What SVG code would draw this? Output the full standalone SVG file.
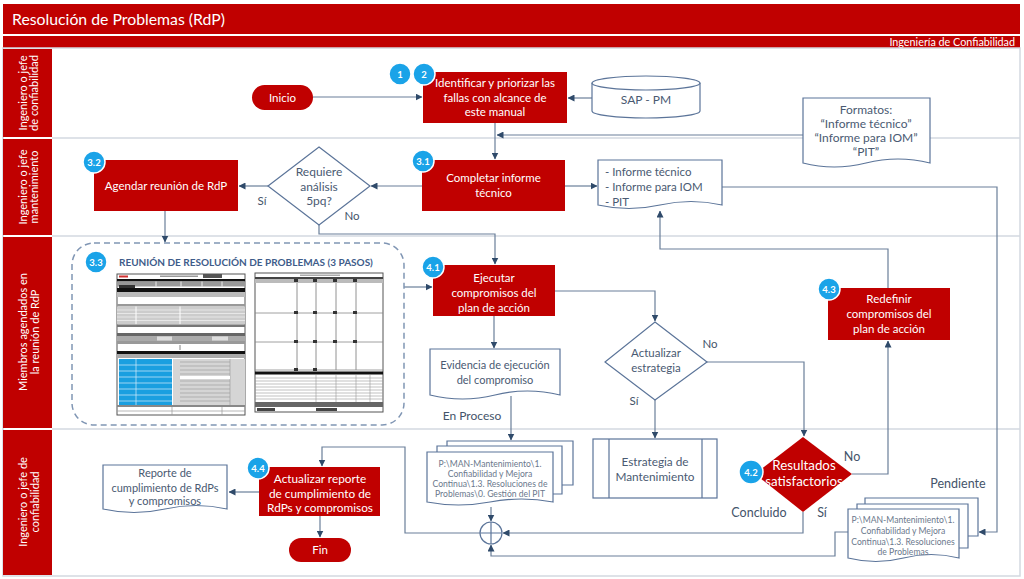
<svg xmlns="http://www.w3.org/2000/svg" width="1024" height="579" viewBox="0 0 1024 579">
<defs>
<marker id="ah" markerWidth="7" markerHeight="7" refX="6.5" refY="3.5" orient="auto" markerUnits="userSpaceOnUse">
<path d="M0,0 L7,3.5 L0,7 Z" fill="#2f4a6a"/>
</marker>
<style>
.ff{font-family:Lato,"Noto Sans",sans-serif}
.hdr{fill:#C00000}
.lanebg{fill:#C00000}
.lt{font-family:Lato,"Noto Sans",sans-serif;fill:#fff;font-size:11px;text-anchor:middle}
.sep{stroke:#d3d9e0;stroke-width:1.5;fill:none}
.box{fill:#C00000}
.nt{font-family:Lato,"Noto Sans",sans-serif;fill:#fff;font-size:11.5px;text-anchor:middle}
.doc{fill:#fff;stroke:#5b7499;stroke-width:1.2}
.dt{font-family:Lato,"Noto Sans",sans-serif;fill:#4a5a72;font-size:11px;text-anchor:middle}
.dl{font-family:Lato,"Noto Sans",sans-serif;fill:#4a5a72;font-size:11.5px;text-anchor:start}
.st{font-family:Lato,"Noto Sans",sans-serif;fill:#6a788c;font-size:8.6px;text-anchor:middle}
.lbl{font-family:Lato,"Noto Sans",sans-serif;fill:#44546A;font-size:11.5px;text-anchor:middle}
.big{font-size:12.5px}
.conn{fill:none;stroke:#6a7f99;stroke-width:1.2}
.arr{marker-end:url(#ah)}
.bc{fill:#1AA3E8;stroke:#fff;stroke-width:1.5}
.bt{font-family:Lato,"Noto Sans",sans-serif;fill:#fff;font-size:9.5px;font-weight:bold;text-anchor:middle}
.fo{fill:#fff;stroke:#555;stroke-width:1}
</style>
</defs>
<rect width="1024" height="579" fill="#fff"/>
<g id="header">
<rect class="hdr" x="3" y="4" width="1017" height="30"/>
<rect class="hdr" x="3" y="36" width="1017" height="12"/>
<text class="ff" x="12" y="25" fill="#fff" font-size="15.8">Resolución de Problemas (RdP)</text>
<text class="ff" x="1015" y="46" fill="#fff" font-size="10.8" text-anchor="end">Ingeniería de Confiabilidad</text>
</g>
<g id="lanes">
<rect x="3" y="48" width="1017" height="528" fill="none" stroke="#d3d9e0" stroke-width="1.5"/>
<line class="sep" x1="52" y1="138" x2="1020" y2="138"/>
<line class="sep" x1="52" y1="236" x2="1020" y2="236"/>
<line class="sep" x1="52" y1="429" x2="1020" y2="429"/>
<rect class="lanebg" x="3" y="49" width="49" height="88"/>
<rect class="lanebg" x="3" y="139" width="49" height="96"/>
<rect class="lanebg" x="3" y="237" width="49" height="191"/>
<rect class="lanebg" x="3" y="430" width="49" height="145"/>
<text class="lt" transform="translate(26.5,93) rotate(-90)">Ingeniero o jefe</text>
<text class="lt" transform="translate(38,93) rotate(-90)">de confiabilidad</text>
<text class="lt" transform="translate(26.5,187) rotate(-90)">Ingeniero o jefe</text>
<text class="lt" transform="translate(38,187) rotate(-90)">mantenimiento</text>
<text class="lt" transform="translate(26.5,332) rotate(-90)">Miembros agendados en</text>
<text class="lt" transform="translate(38.5,332) rotate(-90)">la reunión de RdP</text>
<text class="lt" transform="translate(26.5,502) rotate(-90)">Ingeniero o jefe de</text>
<text class="lt" transform="translate(38.5,502) rotate(-90)">confiabilidad</text>
</g>
<g id="connectors">
<path class="conn arr" d="M313,97 H422"/>
<path class="conn arr" d="M592,98 H568"/>
<path class="conn arr" d="M495,123 V159"/>
<path class="conn arr" d="M803,135 H497"/>
<path class="conn arr" d="M565,186 H597"/>
<path class="conn arr" d="M422,186 H371"/>
<path class="conn arr" d="M268,186 H239"/>
<path class="conn arr" d="M165,211 V242"/>
<path class="conn arr" d="M319,225 V234 H495 V264"/>
<path class="conn arr" d="M404,287 H432"/>
<path class="conn arr" d="M494,316 V348"/>
<path class="conn arr" d="M555,291 H655 V321"/>
<path class="conn arr" d="M655,400 V438"/>
<path class="conn arr" d="M707,362 H804 V436"/>
<path class="conn arr" d="M511,396 V440"/>
<path class="conn arr" d="M722,187 H997 V532 H979"/>
<path class="conn arr" d="M888,288 V249 H660 V211"/>
<path class="conn arr" d="M852,474 H888 V341"/>
<path class="conn arr" d="M491,507 V521"/>
<path class="conn arr" d="M803,512 V533 H503"/>
<path class="conn arr" d="M848,532 H835 V556 H491 V545"/>
<path class="conn arr" d="M480,533 H405 V447 H322 V466"/>
<path class="conn arr" d="M259,492 H229"/>
<path class="conn arr" d="M320,516 V537"/>
</g>
<g id="inicio">
<rect class="box" x="252" y="85" width="61" height="25" rx="12.5"/>
<text class="nt" x="282.5" y="101.5">Inicio</text>
</g>
<g id="identificar">
<rect class="box" x="423" y="72" width="144" height="51"/>
<text class="nt" x="495" y="87">Identificar y priorizar las</text>
<text class="nt" x="495" y="101.5">fallas con alcance de</text>
<text class="nt" x="495" y="116">este manual</text>
<circle class="bc" cx="400" cy="74" r="11"/>
<text class="bt" x="400" y="77.5">1</text>
<circle class="bc" cx="424" cy="74" r="11"/>
<text class="bt" x="424" y="77.5">2</text>
</g>
<g id="sap">
<path d="M592,83 A54,7 0 0,1 700,83 V111 A54,7 0 0,1 592,111 Z" class="doc"/>
<path d="M592,83 A54,7 0 0,0 700,83" class="doc" fill="none"/>
<text class="dt" x="646" y="104" style="font-size:12px">SAP - PM</text>
</g>
<g id="formatos">
<path class="doc" d="M803,98 H930 V163 Q898,155 866,163 T803,163 Z"/>
<text class="dt" x="866" y="114" style="font-size:12px">Formatos:</text>
<text class="dt" x="866" y="128" style="font-size:12px">“Informe técnico”</text>
<text class="dt" x="866" y="142" style="font-size:12px">“Informe para IOM”</text>
<text class="dt" x="866" y="156" style="font-size:12px">“PIT”</text>
</g>
<g id="completar">
<rect class="box" x="422" y="160" width="143" height="51"/>
<text class="nt" x="493.5" y="182">Completar informe</text>
<text class="nt" x="493.5" y="197">técnico</text>
<circle class="bc" cx="423" cy="161" r="11"/>
<text class="bt" x="423" y="164.5">3.1</text>
</g>
<g id="informe">
<path class="doc" d="M598,160 H722 V205 Q691,198 660,205 T598,205 Z"/>
<text class="dl" x="605" y="176">- Informe técnico</text>
<text class="dl" x="605" y="191">- Informe para IOM</text>
<text class="dl" x="605" y="206">- PIT</text>
</g>
<g id="requiere">
<path class="doc" d="M319,147 L370,186 L319,225 L268,186 Z"/>
<text class="dt" x="319" y="176" style="font-size:12px">Requiere</text>
<text class="dt" x="319" y="190.5" style="font-size:12px">análisis</text>
<text class="dt" x="319" y="205" style="font-size:12px">5pq?</text>
<text class="lbl" x="262" y="205">Sí</text>
<text class="lbl" x="352" y="220">No</text>
</g>
<g id="agendar">
<rect class="box" x="94" y="160" width="144" height="51"/>
<text class="nt" x="166" y="190">Agendar reunión de RdP</text>
<circle class="bc" cx="94" cy="162" r="11"/>
<text class="bt" x="94" y="165.5">3.2</text>
</g>
<g id="reunion">
<rect x="72" y="243" width="332" height="182" rx="22" fill="none" stroke="#8096b4" stroke-width="1.5" stroke-dasharray="6,4"/>
<circle class="bc" cx="96" cy="262" r="11"/>
<text class="bt" x="96" y="265.5">3.3</text>
<text class="ff" x="119" y="266" font-size="10" font-weight="bold" fill="#3e5c8a">REUNIÓN DE RESOLUCIÓN DE PROBLEMAS (3 PASOS)</text>
<g id="form1">
<rect class="fo" x="117" y="274" width="128" height="141"/>
<rect x="119" y="275.5" width="9" height="2" fill="#d03030"/>
<rect x="160" y="275.5" width="38" height="1.5" fill="#999"/>
<rect x="203" y="274" width="19" height="4" fill="#555"/>
<rect x="117" y="279" width="128" height="2.5" fill="#111"/>
<rect x="117" y="281.5" width="128" height="5" fill="#999"/>
<path d="M156,281.5 V286.5 M181,281.5 V286.5 M202,281.5 V286.5 M222,281.5 V286.5" stroke="#fff" stroke-width="0.8"/>
<rect x="119" y="285" width="16" height="3" fill="#333"/>
<rect x="117" y="288" width="128" height="4" fill="#111"/>
<rect x="117" y="292" width="128" height="5" fill="#bbb"/>
<rect x="117" y="304" width="128" height="2.5" fill="#999"/>
<rect x="117" y="306.5" width="128" height="18" fill="#ccc"/>
<path d="M117,310 H245 M117,313.5 H245 M117,317 H245 M117,320.5 H245" stroke="#eee" stroke-width="0.8"/>
<path d="M136,306.5 V324.5 M180,306.5 V324.5" stroke="#fff" stroke-width="1"/>
<rect x="117" y="324.5" width="128" height="2.5" fill="#777"/>
<rect x="117" y="333" width="128" height="3" fill="#666"/>
<rect x="117" y="336" width="128" height="5" fill="#aaa"/>
<rect x="157" y="336.5" width="15" height="4" fill="#ddd"/>
<rect x="212" y="336.5" width="16" height="4" fill="#ddd"/>
<rect x="117" y="341" width="128" height="3" fill="#999"/>
<path d="M180,345 V350" stroke="#666" stroke-width="0.8"/>
<rect x="117" y="351" width="128" height="3" fill="#111"/>
<rect x="117" y="354" width="128" height="4" fill="#aaa"/>
<rect x="119" y="359" width="53" height="46" fill="#1A9FE0"/>
<path d="M119,365 H172 M119,371 H172 M119,377 H172 M119,383 H172 M119,389 H172 M119,395 H172 M119,401 H172 M136,359 V405" stroke="#d8eefa" stroke-width="0.7"/>
<rect x="173" y="359" width="72" height="46" fill="#d5d5d5"/>
<path d="M180,362 H230 M180,366 H230 M180,370 H230 M180,374 H230 M180,381 H230 M180,385 H230 M180,389 H230 M180,393 H230 M180,397 H230 M180,401 H230 M230,359 V405" stroke="#999" stroke-width="0.6"/>
<rect x="180" y="376" width="50" height="3" fill="#fff"/>
<rect x="117" y="405" width="128" height="2" fill="#888"/>
<path d="M172,407 V415 M222,407 V415 M117,411 H245" stroke="#999" stroke-width="0.7"/>
</g>
<g id="form2">
<rect class="fo" x="255" y="273" width="128" height="139"/>
<rect x="300" y="274.5" width="40" height="1.5" fill="#aaa"/>
<rect x="255" y="277" width="128" height="2" fill="#444"/>
<rect x="255" y="279" width="128" height="4" fill="#bbb"/>
<path d="M297,283 V370 M316,283 V370 M336,283 V370 M356,283 V370" stroke="#777" stroke-width="0.8"/>
<path d="M255,313 H383 M255,342 H383 M255,370 H383" stroke="#888" stroke-width="0.8"/>
<g fill="#333">
<rect x="294" y="279" width="4" height="3"/><rect x="313" y="279" width="4" height="3"/><rect x="333" y="279" width="4" height="3"/><rect x="353" y="279" width="4" height="3"/>
<rect x="294" y="311" width="4" height="3"/><rect x="313" y="311" width="4" height="3"/><rect x="333" y="311" width="4" height="3"/><rect x="353" y="311" width="4" height="3"/>
<rect x="294" y="340" width="4" height="3"/><rect x="313" y="340" width="4" height="3"/><rect x="333" y="340" width="4" height="3"/><rect x="353" y="340" width="4" height="3"/>
<rect x="294" y="368" width="4" height="3"/><rect x="313" y="368" width="4" height="3"/>
</g>
<rect x="255" y="371.5" width="128" height="3" fill="#111"/>
<path d="M255,378 H383 M255,381 H383 M255,384 H383 M255,387 H383 M255,390 H383 M255,393 H383 M255,396 H383 M255,399 H383 M316,375 V402 M336,375 V402 M356,375 V402 M370,375 V402" stroke="#999" stroke-width="0.6"/>
<rect x="255" y="402" width="128" height="5" fill="#666"/>
<rect x="257" y="408" width="18" height="3" fill="#444"/>
<rect x="316" y="408" width="21" height="3" fill="#444"/>
</g>
</g>
<g id="ejecutar">
<rect class="box" x="433" y="265" width="122" height="51"/>
<text class="nt" x="494" y="282">Ejecutar</text>
<text class="nt" x="494" y="297">compromisos del</text>
<text class="nt" x="494" y="312">plan de acción</text>
<circle class="bc" cx="433" cy="267" r="11"/>
<text class="bt" x="433" y="270.5">4.1</text>
</g>
<g id="evidencia">
<path class="doc" d="M430,349 H560 V395 Q527.5,387 495,395 T430,395 Z"/>
<text class="dt" x="495" y="369">Evidencia de ejecución</text>
<text class="dt" x="495" y="384">del compromiso</text>
<text class="lbl" x="472" y="420" style="font-size:12px">En Proceso</text>
</g>
<g id="actualizar-estrategia">
<path class="doc" d="M655,322 L707,362 L655,400 L605,362 Z"/>
<text class="dt" x="656" y="357" style="font-size:11.5px">Actualizar</text>
<text class="dt" x="656" y="372" style="font-size:11.5px">estrategia</text>
<text class="lbl" x="710" y="348">No</text>
<text class="lbl" x="634" y="405">Sí</text>
</g>
<g id="redefinir">
<rect class="box" x="828" y="288" width="122" height="52"/>
<text class="nt" x="889" y="303">Redefinir</text>
<text class="nt" x="889" y="318">compromisos del</text>
<text class="nt" x="889" y="333">plan de acción</text>
<circle class="bc" cx="829" cy="289" r="11"/>
<text class="bt" x="829" y="292.5">4.3</text>
</g>
<g id="gestion-pit">
<path class="doc" d="M447,441 H573 V485 H447 Z"/>
<path class="doc" d="M437,446 H562 V494 H437 Z"/>
<path class="doc" d="M427,452 H553 V502 Q521.5,496 490,502 T427,502 Z"/>
<text class="st" x="490" y="467">P:\MAN-Mantenimiento\1.</text>
<text class="st" x="490" y="477">Confiabilidad y Mejora</text>
<text class="st" x="490" y="487">Continua\1.3. Resoluciones de</text>
<text class="st" x="490" y="497">Problemas\0. Gestión del PIT</text>
</g>
<g id="estrategia">
<rect class="doc" x="593" y="439" width="124" height="59"/>
<path d="M609,439 V498 M702,439 V498" stroke="#5b7499" stroke-width="1.2"/>
<text class="dt" x="655" y="466" style="font-size:11.8px">Estrategia de</text>
<text class="dt" x="655" y="481" style="font-size:11.8px">Mantenimiento</text>
</g>
<g id="resultados">
<path class="box" d="M803,437 L852,474 L803,512 L755,474 Z"/>
<text class="nt" x="804" y="470" style="font-size:13.3px">Resultados</text>
<text class="nt" x="804" y="486" style="font-size:13.3px">satisfactorios</text>
<circle class="bc" cx="751" cy="472" r="12"/>
<text class="bt" x="751" y="475.5">4.2</text>
<text class="lbl big" x="852" y="461">No</text>
<text class="lbl big" x="759" y="517">Concluido</text>
<text class="lbl big" x="822" y="517">Sí</text>
<text class="lbl big" x="958" y="488">Pendiente</text>
</g>
<g id="resoluciones">
<path class="doc" d="M865,498 H978 V536 H865 Z"/>
<path class="doc" d="M857,504 H968 V548 H857 Z"/>
<path class="doc" d="M848,509 H959 V558 Q931,551 903.5,558 T848,558 Z"/>
<text class="st" x="903" y="523">P:\MAN-Mantenimiento\1.</text>
<text class="st" x="903" y="534">Confiabilidad y Mejora</text>
<text class="st" x="903" y="545">Continua\1.3. Resoluciones</text>
<text class="st" x="903" y="555">de Problemas</text>
</g>
<g id="junction">
<circle cx="491" cy="533" r="11" fill="#fff" stroke="#5b7499" stroke-width="1.2"/>
<path d="M480,533 H502 M491,522 V544" stroke="#5b7499" stroke-width="1.2"/>
</g>
<g id="actualizar-reporte">
<rect class="box" x="259" y="467" width="121" height="49"/>
<text class="nt" x="320" y="482.5" style="font-size:11.8px">Actualizar reporte</text>
<text class="nt" x="320" y="497.5" style="font-size:11.8px">de cumplimiento de</text>
<text class="nt" x="320" y="512" style="font-size:11.8px">RdPs y compromisos</text>
<circle class="bc" cx="258" cy="468" r="11"/>
<text class="bt" x="258" y="471.5">4.4</text>
</g>
<g id="reporte">
<path class="doc" d="M103,465 H227 V509 Q196,502 165,509 T103,509 Z"/>
<text class="dt" x="165" y="477">Reporte de</text>
<text class="dt" x="165" y="492">cumplimiento de RdPs</text>
<text class="dt" x="165" y="505">y compromisos</text>
</g>
<g id="fin">
<rect class="box" x="289" y="538" width="62" height="24" rx="12"/>
<text class="nt" x="320" y="554">Fin</text>
</g>
</svg>
